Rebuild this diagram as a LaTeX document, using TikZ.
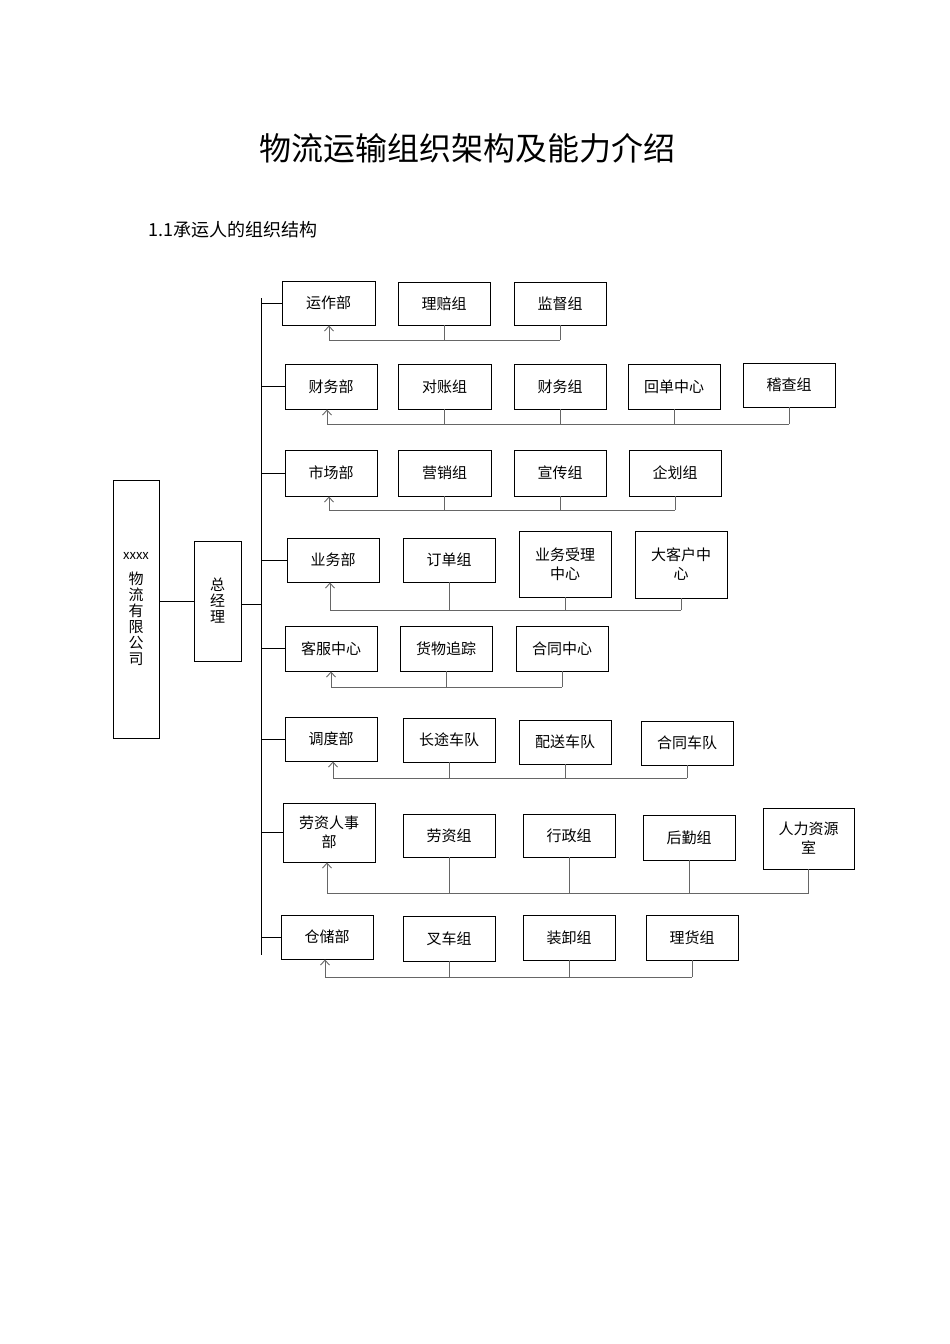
\documentclass[tikz,border=0pt]{standalone}
\usepackage{fontspec}
\setmainfont{Noto Sans CJK SC}
\usetikzlibrary{arrows.meta}
\begin{document}
\begin{tikzpicture}[x=1pt,y=-1pt,
  bx/.style={draw,line width=0.9pt,inner sep=0pt,font=\fontsize{15}{19}\selectfont,align=center},
  ln/.style={draw=black!60,line width=0.9pt},
  ar/.style={ln,-{Straight Barb[length=5pt,width=9pt]}}]
\useasboundingbox (0,0) rectangle (950,1344);
\newcommand\bx[6]{\node[bx,minimum width={#4-#2},minimum height={#5-#3}] (#1) at ({(#2+#4)/2},{(#3+#5)/2}) {#6};}
\node at (467,148) {\fontsize{32}{36}\selectfont 物流运输组织架构及能力介绍};
\node[anchor=west] at (145,230) {\fontsize{18}{22}\selectfont 1.1承运人的组织结构};
\bx{co}{113}{480}{159}{738}{\fontsize{13}{16}\selectfont xxxx\\[6pt]物\\[-3pt]流\\[-3pt]有\\[-3pt]限\\[-3pt]公\\[-3pt]司}
\bx{gm}{194}{541}{241}{661}{总\\[-3pt]经\\[-3pt]理}
\coordinate (st) at (261,298); \coordinate (sb) at (261,955);
\draw[line width=0.9pt] (st) -- (sb);
\draw[line width=0.9pt] (159,601) -- (194,601);
\draw[line width=0.9pt] (241,604) -- (261,604);
% row1
\bx{a0}{282}{281}{375}{325}{运作部}
\bx{a1}{398}{282}{490}{325}{理赔组}
\bx{a2}{514}{282}{606}{325}{监督组}
% row2
\bx{b0}{285}{364}{377}{409}{财务部}
\bx{b1}{398}{364}{491}{409}{对账组}
\bx{b2}{514}{364}{606}{409}{财务组}
\bx{b3}{628}{364}{720}{409}{回单中心}
\bx{b4}{743}{363}{835}{407}{稽查组}
% row3
\bx{c0}{285}{450}{377}{496}{市场部}
\bx{c1}{398}{450}{491}{496}{营销组}
\bx{c2}{514}{450}{606}{496}{宣传组}
\bx{c3}{629}{450}{721}{496}{企划组}
% row4
\bx{d0}{287}{538}{379}{582}{业务部}
\bx{d1}{403}{538}{495}{582}{订单组}
\bx{d2}{519}{531}{611}{597}{业务受理\\中心}
\bx{d3}{635}{531}{727}{598}{大客户中\\心}
% row5
\bx{e0}{285}{626}{377}{671}{客服中心}
\bx{e1}{400}{626}{492}{671}{货物追踪}
\bx{e2}{516}{626}{608}{671}{合同中心}
% row6
\bx{f0}{285}{717}{377}{761}{调度部}
\bx{f1}{403}{718}{495}{762}{长途车队}
\bx{f2}{519}{720}{611}{764}{配送车队}
\bx{f3}{641}{721}{733}{765}{合同车队}
% row7
\bx{g0}{283}{803}{375}{862}{劳资人事\\部}
\bx{g1}{403}{814}{495}{857}{劳资组}
\bx{g2}{523}{814}{615}{857}{行政组}
\bx{g3}{643}{815}{735}{860}{后勤组}
\bx{g4}{763}{808}{854}{869}{人力资源\\室}
% row8
\bx{h0}{281}{915}{373}{959}{仓储部}
\bx{h1}{403}{916}{495}{961}{叉车组}
\bx{h2}{523}{915}{615}{960}{装卸组}
\bx{h3}{646}{915}{738}{960}{理货组}
\foreach \n in {a0,b0,c0,d0,e0,f0,g0,h0}{\draw[line width=0.9pt] (st|-\n.west) -- (\n.west);}
\newcommand\bus[4]{%
  \coordinate (#1L) at (#3,#2);
  \draw[ar] (#1L) -- (#1L|-#10.south);
  \foreach \k in {#4}{\draw[ln] (#1\k.south) -- (#1\k.south|-#1L);}
  \foreach \k in {#4}{\xdef\lastk{\k}}
  \draw[ln] (#1L) -- (#1L-|#1\lastk.south);}
\bus{a}{340}{329}{1,2}
\bus{b}{424}{327}{1,2,3,4}
\bus{c}{510}{329}{1,2,3}
\bus{d}{610}{330}{1,2,3}
\bus{e}{687}{331}{1,2}
\bus{f}{778}{333}{1,2,3}
\bus{g}{893}{327}{1,2,3,4}
\bus{h}{977}{325}{1,2,3}
\end{tikzpicture}
\end{document}
